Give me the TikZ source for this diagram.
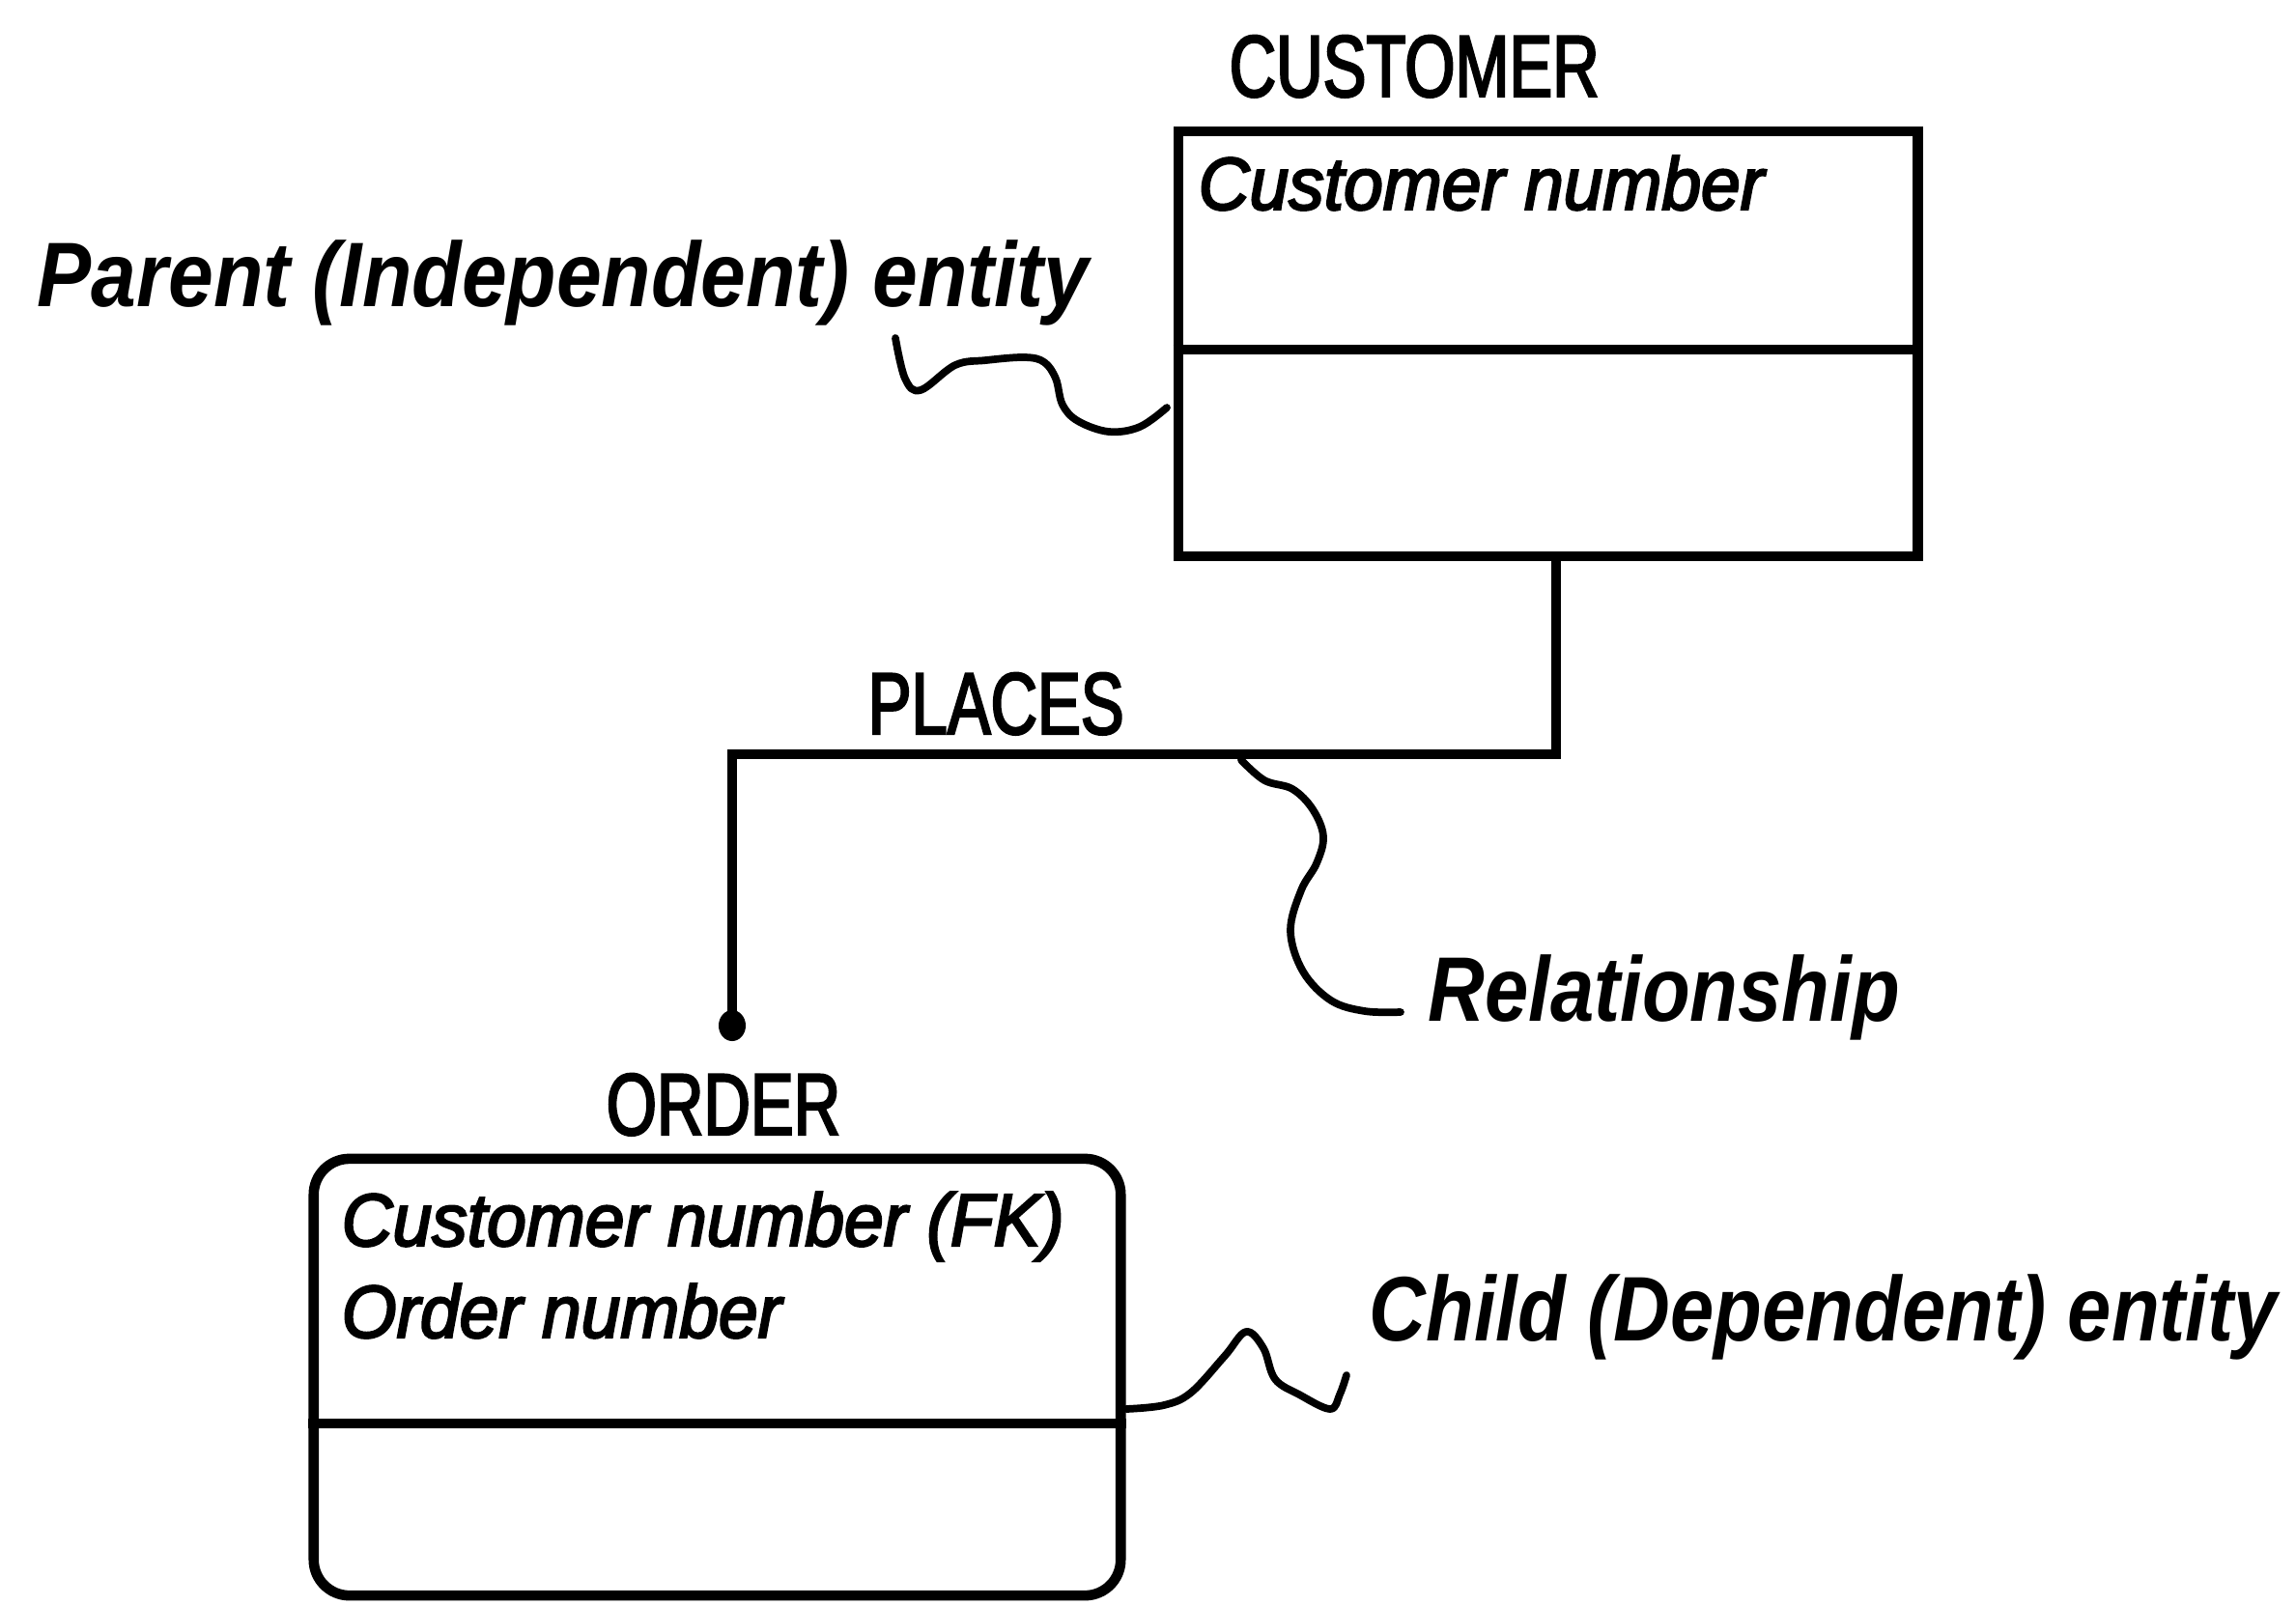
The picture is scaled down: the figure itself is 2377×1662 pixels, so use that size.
\documentclass[tikz,border=0pt]{standalone}
\usepackage{fontspec}
\setmainfont{Liberation Sans}
% condensed upright for entity and relationship names
\newfontfamily\namefont[FakeStretch=0.74, FakeBold=2.5]{Liberation Sans}
% attribute lines
\newfontfamily\attrfont[FakeStretch=0.95, FakeBold=3]{Liberation Sans Italic}
% callout labels
\newfontfamily\calloutfont[FakeStretch=0.886]{Liberation Sans Bold Italic}
\newfontfamily\calloutnarrow[FakeStretch=0.857]{Liberation Sans Bold Italic}
\begin{document}
\begin{tikzpicture}[x=0.01cm,y=-0.01cm,
  entity/.style={draw, line width=3pt, inner sep=0pt},
  conn/.style={line width=3pt, line join=miter},
  squig/.style={line width=2.2pt, line cap=round, line join=round},
  ename/.style={anchor=base west, inner sep=0pt, font=\namefont\fontsize{25.8pt}{28pt}\selectfont},
  attr/.style={anchor=base west, inner sep=0pt, font=\attrfont\fontsize{21.9pt}{24pt}\selectfont},
  callout/.style={anchor=base west, inner sep=0pt, font=\calloutfont\fontsize{27pt}{30pt}\selectfont},
  callout narrow/.style={callout, font=\calloutnarrow\fontsize{27pt}{30pt}\selectfont}]
\useasboundingbox (0,0) rectangle (2377,1662);

% parent entity
\node[ename] (custname) at (1272,100) {CUSTOMER};
\node[entity, minimum width=7.65cm, minimum height=4.40cm] (cust) at (1602.5,356) {};
\draw[line width=3pt] (cust.west |- 0,362) -- (cust.east |- 0,362);
\node[attr] (custkey) at (1240,217) {Customer number};

% child entity
\node[ename] (ordname) at (627,1175) {ORDER};
\node[entity, rounded corners=0.37cm, minimum width=8.35cm, minimum height=4.52cm] (ord) at (742.5,1426) {};
\draw[line width=3pt] (ord.west |- 0,1474) -- (ord.east |- 0,1474);
\node[attr] (ordfk) at (353,1290) {Customer number (FK)};
\node[attr] (ordkey) at (353,1385) {Order number};

% relationship line
\coordinate (relA) at (1611,781);
\coordinate (relB) at (758,781);
\coordinate (reltip) at (758,1062);
\draw[conn] (cust.south -| relA) -- (relA) -- (relB) -- (reltip);
\fill (reltip) ellipse [x radius=0.14cm, y radius=0.16cm];
\node[ename] (relname) at (898,760) {PLACES};

% callouts
\node[callout] (parentlbl) at (38,317) {Parent (Independent) entity};
\node[callout narrow] (rellbl) at (1478,1057) {Relationship};
\node[callout narrow] (childlbl) at (1417,1388) {Child (Dependent) entity};

\coordinate (pA) at (927,350);
\coordinate (pB) at (1208,422);
\draw[squig] plot[smooth, tension=0.6] coordinates {(pA) (937,392) (953,404) (989,378) (1021,373) (1061,370) (1081,375) (1093,392) (1100,419) (1116,436) (1148,447) (1180,442) (pB)};

\coordinate (rA) at (1285,787);
\coordinate (rB) at (1450,1048);
\draw[squig] plot[smooth, tension=0.6] coordinates {(rA) (1309,808) (1338,817) (1359,838) (1370,866) (1363,894) (1347,922) (1336,964) (1349,1006) (1378,1036) (1413,1047) (rB)};

\coordinate (cA) at (1166,1459);
\coordinate (cB) at (1394,1424);
\draw[squig] plot[smooth, tension=0.6] coordinates {(cA) (1205,1455) (1233,1442) (1268,1404) (1290,1379) (1308,1396) (1320,1428) (1345,1444) (1377,1459) (1387,1444) (cB)};
\end{tikzpicture}
\end{document}
